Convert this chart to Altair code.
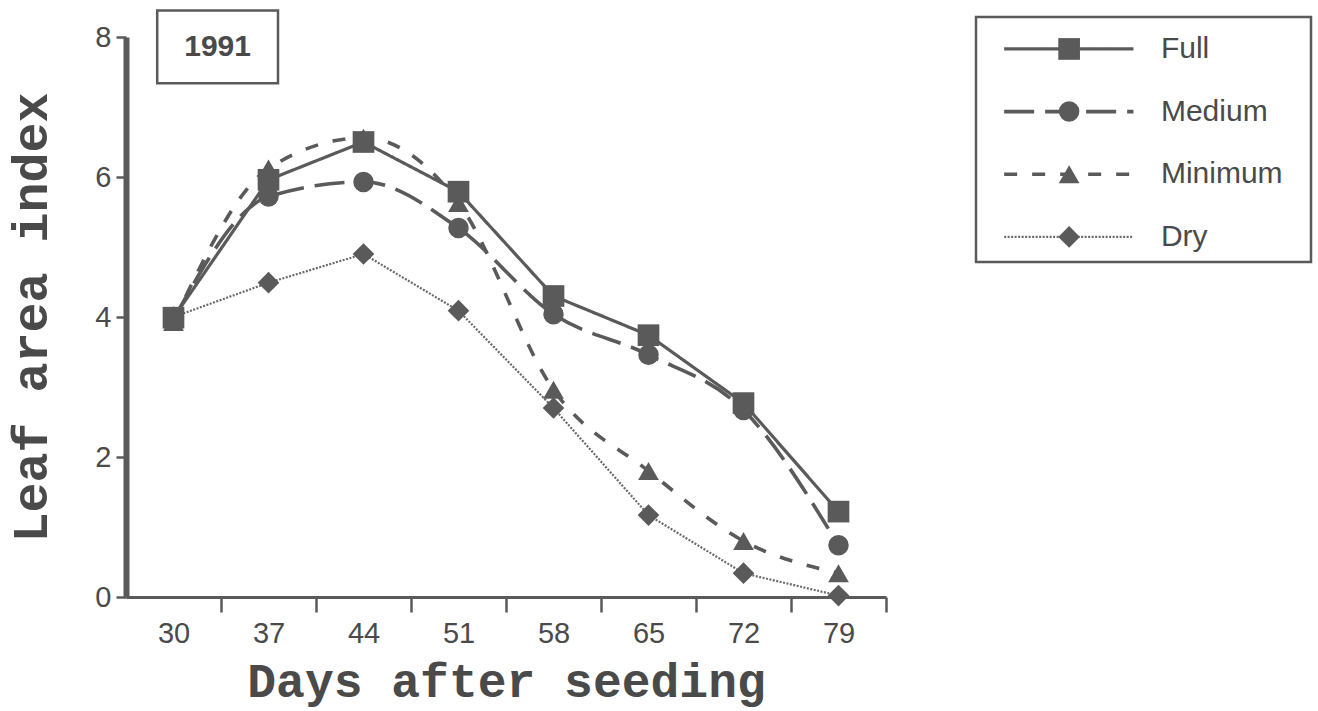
import altair as alt
import pandas as pd

# ---- data ----
days = [30, 37, 44, 51, 58, 65, 72, 79]
full = [3.99, 5.96, 6.50, 5.79, 4.30, 3.74, 2.77, 1.22]
medium = [3.97, 5.72, 5.93, 5.27, 4.04, 3.46, 2.67, 0.74]
minimum = [3.93, 6.12, 6.56, 5.63, 2.96, 1.80, 0.80, 0.34]
dry = [4.00, 4.49, 4.90, 4.09, 2.70, 1.17, 0.34, 0.02]

series_names = ["Full", "Medium", "Minimum", "Dry"]
series_values = [full, medium, minimum, dry]
x_tick_values = [23, 30, 37, 44, 51, 58, 65, 72, 79]
y_tick_values = [0, 2, 4, 6, 8]
year_label = "1991"

# ---- styles ----
GRAY = "#5a5a5a"
TEXT = "#4a4a4a"
shapes = {"Full": "square", "Medium": "circle", "Minimum": "triangle-up", "Dry": "diamond"}
sizes = {"Full": 470, "Medium": 420, "Minimum": 430, "Dry": 470}
dashes = {"Full": [1, 0], "Medium": [30, 11], "Minimum": [13, 15], "Dry": [2, 1.5]}
widths = {"Full": 3.2, "Medium": 3.6, "Minimum": 3.6, "Dry": 2.2}
colors = {"Full": GRAY, "Medium": GRAY, "Minimum": GRAY, "Dry": "#6a6a6a"}
interps = {"Full": "linear", "Medium": "monotone", "Minimum": "monotone", "Dry": "linear"}

rows = []
for name, vals in zip(series_names, series_values):
    for d, v in zip(days, vals):
        rows.append({"series": name, "day": d, "lai": v})
df = pd.DataFrame(rows)

W, H = 760, 560
x_scale = alt.Scale(domain=[26.5, 82.5], nice=False, zero=False)
y_scale = alt.Scale(domain=[0, 8], nice=False, zero=True)
half_band = W / 56 * 3.5

x_axis = alt.Axis(
    values=x_tick_values, title="Days after seeding", grid=False,
    tickOffset=half_band, labelOffset=-half_band,
    labelExpr="datum.value < 26 ? '' : datum.label",
    tickSize=15, tickWidth=2.5, tickColor=GRAY,
    domainWidth=3, domainColor=GRAY,
    labelFont="Liberation Sans", labelFontSize=29, labelColor=TEXT, labelPadding=7,
    titleFont="Liberation Mono", titleFontWeight="bold", titleFontSize=48,
    titleColor=TEXT, titlePadding=10,
)
y_axis = alt.Axis(
    values=y_tick_values, title="Leaf area index", grid=False,
    tickSize=10, tickWidth=2.5, tickColor=GRAY,
    domainWidth=6, domainColor=GRAY,
    labelFont="Liberation Sans", labelFontSize=29, labelColor=TEXT, labelPadding=5,
    titleFont="Liberation Mono", titleFontWeight="bold", titleFontSize=50,
    titleColor=TEXT, titlePadding=38,
)

layers = []
draw_order = ["Dry", "Minimum", "Medium", "Full"]
for name in draw_order:
    layers.append(
        alt.Chart(df).transform_filter(alt.datum.series == name).mark_line(
            color=colors[name], strokeWidth=widths[name], strokeDash=dashes[name],
            interpolate=interps[name], strokeCap="butt",
        ).encode(
            x=alt.X("day:Q", scale=x_scale, axis=x_axis),
            y=alt.Y("lai:Q", scale=y_scale, axis=y_axis),
        )
    )
for name in draw_order:
    layers.append(
        alt.Chart(df).transform_filter(alt.datum.series == name).mark_point(
            filled=True, color=GRAY, opacity=1, shape=shapes[name], size=sizes[name],
        ).encode(
            x=alt.X("day:Q", scale=x_scale, axis=x_axis),
            y=alt.Y("lai:Q", scale=y_scale, axis=y_axis),
        )
    )

# year box (annotation in data coordinates)
year_df = pd.DataFrame({"label": [year_label], "day": [28.8], "x1": [37.7],
                        "lai": [7.34], "y1": [8.38], "xc": [33.25], "yc": [7.86]})
layers.append(
    alt.Chart(year_df).mark_rect(fillOpacity=0, stroke=GRAY, strokeWidth=2.5).encode(
        x=alt.X("day:Q", scale=x_scale, axis=x_axis), x2="x1",
        y=alt.Y("lai:Q", scale=y_scale, axis=y_axis), y2="y1",
    )
)
layers.append(
    alt.Chart(year_df).mark_text(font="Liberation Sans", fontWeight="bold", fontSize=30,
                                 color=TEXT, align="center", baseline="middle").encode(
        x=alt.X("xc:Q", scale=x_scale, axis=x_axis),
        y=alt.Y("yc:Q", scale=y_scale, axis=y_axis),
        text="label:N",
    )
)
main = alt.layer(*layers)

# ---- legend drawn as its own layer with its own scales ----
leg_df = pd.DataFrame({"series": series_names, "idx": list(range(len(series_names)))})
lx = alt.Scale(domain=[0, 1], range=[850, 1185], nice=False, zero=False)
ly = alt.Scale(domain=[-0.51, 3.4], range=[-20, 225], nice=False, zero=False)

leg_layers = [
    alt.Chart(pd.DataFrame({"a": [0], "b": [1], "c": [-0.51], "d": [3.4]})).mark_rect(
        fillOpacity=0, stroke=GRAY, strokeWidth=2.5
    ).encode(
        x=alt.X("a:Q", scale=lx, axis=None), x2="b",
        y=alt.Y("c:Q", scale=ly, axis=None), y2="d",
    )
]
for name in series_names:
    leg_layers.append(
        alt.Chart(leg_df).transform_filter(alt.datum.series == name)
        .transform_calculate(xa="0.084", xb="0.47")
        .mark_rule(color=colors[name], strokeWidth=widths[name], strokeDash=dashes[name])
        .encode(
            x=alt.X("xa:Q", scale=lx, axis=None), x2="xb:Q",
            y=alt.Y("idx:Q", scale=ly, axis=None),
        )
    )
    leg_layers.append(
        alt.Chart(leg_df).transform_filter(alt.datum.series == name)
        .transform_calculate(xm="0.278")
        .mark_point(filled=True, color=GRAY, opacity=1, shape=shapes[name], size=sizes[name])
        .encode(
            x=alt.X("xm:Q", scale=lx, axis=None),
            y=alt.Y("idx:Q", scale=ly, axis=None),
        )
    )
leg_layers.append(
    alt.Chart(leg_df).transform_calculate(xt="0.552")
    .mark_text(align="left", baseline="middle", font="Liberation Sans", fontSize=30, color=TEXT)
    .encode(
        x=alt.X("xt:Q", scale=lx, axis=None),
        y=alt.Y("idx:Q", scale=ly, axis=None),
        text="series:N",
    )
)
legend = alt.layer(*leg_layers)

chart = (
    alt.layer(main, legend)
    .resolve_scale(x="independent", y="independent")
    .properties(width=W, height=H, padding={"left": 6, "top": 9, "right": 0, "bottom": 4},
                background="white")
    .configure_view(stroke=None)
)

chart.save("out.html", embed_options={"renderer": "svg", "actions": False})
